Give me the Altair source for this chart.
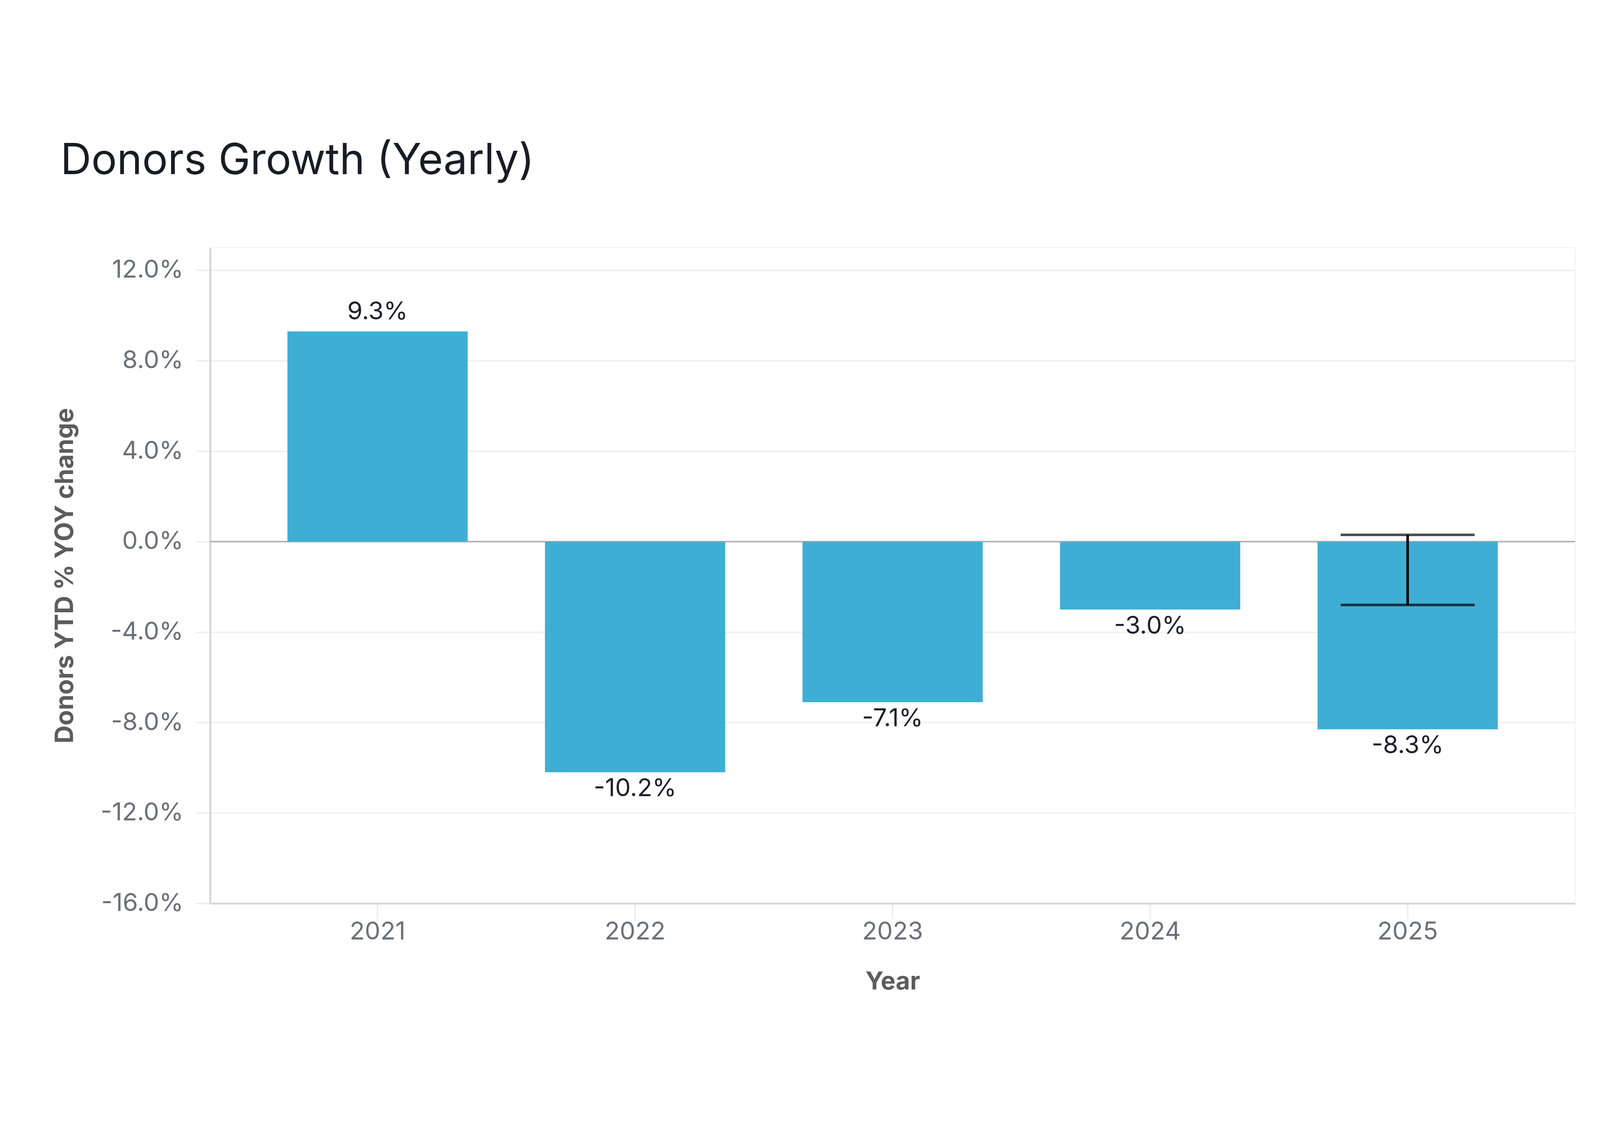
import altair as alt
import pandas as pd

years = ["2021", "2022", "2023", "2024", "2025"]
values = [9.3, -10.2, -7.1, -3.0, -8.3]
labels = [f"{v:.1f}%" for v in values]

err_years = ["2025"]
err_low = [-2.8]
err_high = [0.3]

y_ticks = [-16, -12, -8, -4, 0, 4, 8, 12]

df = pd.DataFrame({"Year": years, "Value": values, "Label": labels})
err_df = pd.DataFrame({"Year": err_years, "Low": err_low, "High": err_high})

FONT = "Inter"
BAR = "#3FAED5"
YTITLE = "Donors YTD % YOY change"

x_scale = alt.Scale(paddingInner=0.3, paddingOuter=0.3)
y_scale = alt.Scale(domain=[-16, 13], nice=False, zero=False)

x_axis = alt.Axis(
    title="Year", labelAngle=0, grid=False, labelLimit=0,
    domainColor="#d6d6d6", domainWidth=6,
    tickColor="#eeeeee", tickWidth=5, tickSize=48,
    labelPadding=3, labelFont=FONT, labelFontSize=78, labelColor="#6b6f78",
    titleFont=FONT, titleFontSize=78, titleFontWeight="bold", titleColor="#5c5c5c",
    titlePadding=80,
)
y_axis = alt.Axis(
    title=YTITLE, values=y_ticks, labelLimit=0,
    labelExpr="(datum.value < 0 ? '-' : '') + format(abs(datum.value), '.1f') + '%'",
    grid=True, gridColor="#f0f0f0", gridWidth=5,
    domainColor="#d6d6d6", domainWidth=6,
    tickColor="#eeeeee", tickWidth=5, tickSize=45,
    labelPadding=40, labelFont=FONT, labelFontSize=78, labelColor="#6b6f78",
    titleFont=FONT, titleFontSize=79, titleFontWeight="bold", titleColor="#5c5c5c",
    titlePadding=217,
)

X = alt.X("Year:N", scale=x_scale, axis=x_axis)

bars = alt.Chart(df).mark_bar(color=BAR).encode(
    x=X, y=alt.Y("Value:Q", scale=y_scale, axis=y_axis)
)

zero = alt.Chart(df).mark_rule(color="#b4b4b4", strokeWidth=4).encode(
    y=alt.datum(0)
)

lab_pos = alt.Chart(df).transform_filter("datum.Value >= 0").mark_text(
    baseline="alphabetic", dy=-38, font=FONT, fontSize=78, color="#1f1f2b"
).encode(x=X, y=alt.Y("Value:Q", scale=y_scale, axis=y_axis), text="Label:N")

lab_neg = alt.Chart(df).transform_filter("datum.Value < 0").mark_text(
    baseline="top", dy=14, font=FONT, fontSize=78, color="#1f1f2b"
).encode(x=X, y=alt.Y("Value:Q", scale=y_scale, axis=y_axis), text="Label:N")

err_rule = alt.Chart(err_df).mark_rule(color="black", strokeWidth=8).encode(
    x=X, y=alt.Y("Low:Q", scale=y_scale, axis=y_axis), y2="High:Q"
)

err_caps = alt.Chart(err_df).transform_fold(["Low", "High"]).mark_tick(
    color="black", thickness=8, size=423
).encode(x=X, y=alt.Y("value:Q", scale=y_scale, axis=y_axis))

chart = alt.layer(zero, bars, err_rule, err_caps, lab_pos, lab_neg).properties(
    width=5034, height=2924,
    title=alt.TitleParams(
        "Donors Growth (Yearly)", anchor="start", frame="group", dx=-473,
        font=FONT, fontSize=135, fontWeight="normal", color="#1b1b26",
        baseline="alphabetic", offset=98,
    ),
    autosize=alt.AutoSizeParams(type="fit", contains="padding"),
    padding={"left": 157, "top": 90, "right": 67, "bottom": 134},
).configure_view(stroke=None).configure(background="white")

chart.save("out.html", embed_options={"renderer": "svg", "actions": False})
